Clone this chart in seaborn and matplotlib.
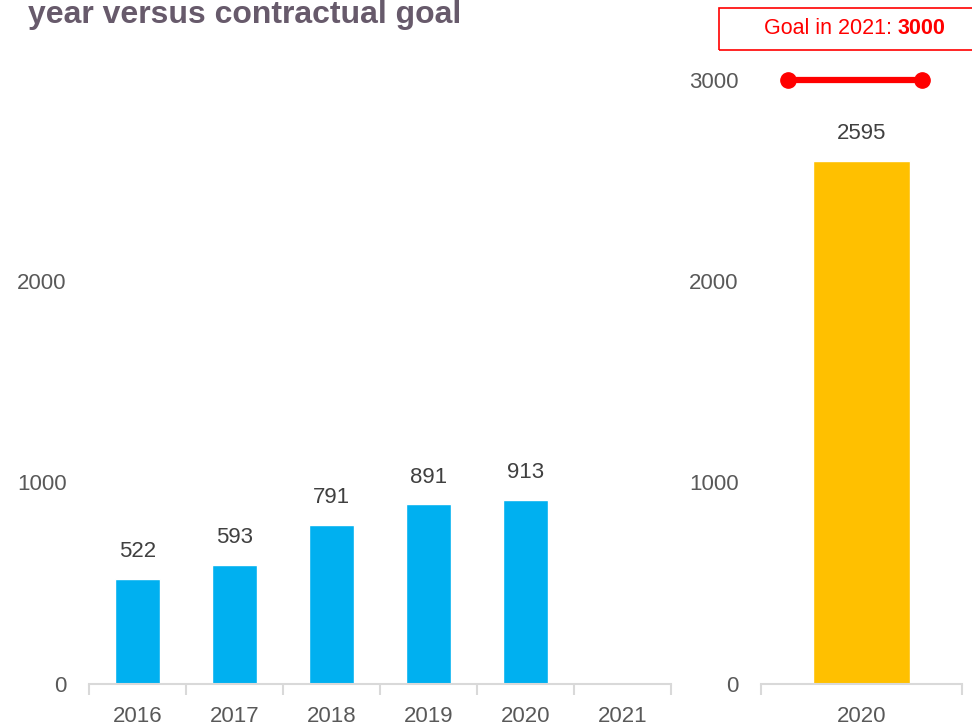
import matplotlib
matplotlib.use("Agg")
import matplotlib.pyplot as plt
from matplotlib.patches import Rectangle
import pandas as pd
import seaborn as sns

# data
years = ["2016", "2017", "2018", "2019", "2020", "2021"]
yearly_values = [522, 593, 791, 891, 913]
cumul_year = ["2020"]
cumul_value = [2595]
goal_value = 3000
goal_year = "2021"
title_line = "year versus contractual goal"

BLUE = "#00B0F0"
YELLOW = "#FFC000"
RED = "#FF0000"
GREY_TXT = "#595959"
AXIS_GREY = "#D9D9D9"

sns.set_style("white")
plt.rcParams["font.family"] = ["Liberation Sans", "DejaVu Sans"]

W, H = 972, 726
fig = plt.figure(figsize=(W / 100, H / 100), dpi=100)

y_bot = 684
y_top = 40
ymax = (y_bot - y_top) / 201.5 * 1000


def px_axes(x0, x1):
    return fig.add_axes([x0 / W, 1 - y_bot / H, (x1 - x0) / W, (y_bot - y_top) / H])


ax1 = px_axes(89, 671)
ax2 = px_axes(761, 962)

df1 = pd.DataFrame({"year": years[:len(yearly_values)], "value": yearly_values})
sns.barplot(data=df1, x="year", y="value", order=years, color=BLUE,
            width=0.455, saturation=1, ax=ax1)

df2 = pd.DataFrame({"year": cumul_year, "value": cumul_value})
sns.barplot(data=df2, x="year", y="value", color=YELLOW,
            width=0.48, saturation=1, ax=ax2)

# goal line on right panel
ax2.plot([-0.366, 0.30], [goal_value, goal_value], color=RED, lw=4.5,
         marker="o", markersize=11, solid_capstyle="butt", zorder=5)

for ax, n, labels, ticks in [(ax1, len(years), years, [0, 1000, 2000]),
                             (ax2, 1, cumul_year, [0, 1000, 2000, 3000])]:
    ax.set_xlim(-0.5, n - 0.5)
    ax.set_ylim(0, ymax)
    ax.set_xlabel("")
    ax.set_ylabel("")
    for s in ["top", "right", "left"]:
        ax.spines[s].set_visible(False)
    ax.spines["bottom"].set_color(AXIS_GREY)
    ax.spines["bottom"].set_linewidth(1.5)
    ax.set_yticks(ticks)
    ax.set_yticklabels([str(t) for t in ticks])
    ax.tick_params(axis="y", left=False, pad=12.5, labelsize=16, labelcolor=GREY_TXT)
    # boundaries as major ticks, labels on minor ticks
    ax.set_xticks([i - 0.5 for i in range(n + 1)])
    ax.set_xticklabels([""] * (n + 1))
    ax.set_xticks(list(range(n)), minor=True)
    ax.set_xticklabels(labels, minor=True)
    ax.tick_params(axis="x", which="major", bottom=True, direction="out",
                   length=8, width=1.5, color=AXIS_GREY)
    ax.tick_params(axis="x", which="minor", bottom=True, length=0, pad=16,
                   labelsize=16, labelcolor=GREY_TXT)
    ax.grid(False)
    for c in ax.containers:
        ax.bar_label(c, fmt="%d", padding=12, fontsize=16, color="#404040")

# title (first line is cut off in the reference)
fig.text(28 / W, 1 - 23 / H, title_line, fontsize=23, fontweight="bold",
         color="#675A6B", ha="left", va="baseline")

# goal box
fig.patches.append(Rectangle((719 / W, 1 - 50 / H), 260 / W, 42 / H,
                             transform=fig.transFigure, fill=False,
                             edgecolor=RED, lw=1.2))
t1 = fig.text(764 / W, 1 - 29 / H, "Goal in " + goal_year + ": ", fontsize=15.5,
              color=RED, ha="left", va="center")
ax2.annotate(str(goal_value), xy=(1, 0), xycoords=t1, va="bottom", ha="left",
             fontsize=15.5, color=RED, fontweight="bold", annotation_clip=False)

fig.savefig("out.png", dpi=100)
